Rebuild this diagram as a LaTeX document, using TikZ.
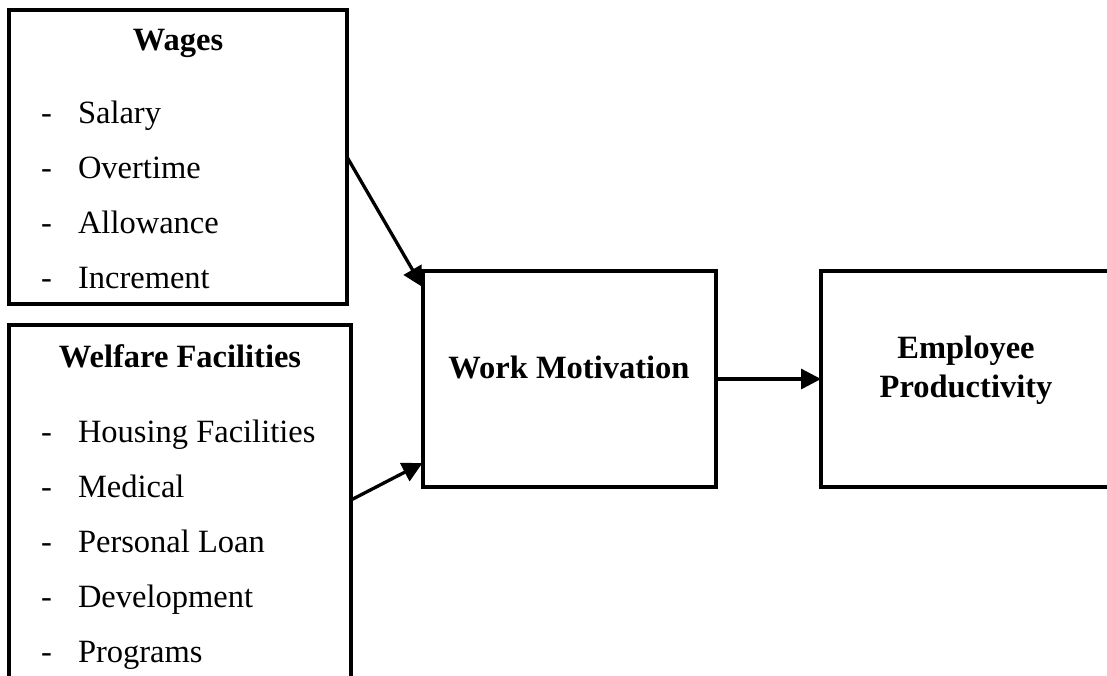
\documentclass[tikz,border=0pt]{standalone}
\usepackage{fontspec}
\setmainfont{Liberation Serif}
\usetikzlibrary{arrows.meta,calc}
\begin{document}
\begin{tikzpicture}[x=1pt,y=-1pt,
  box/.style={draw=black,line width=4pt,rectangle,inner sep=0pt,outer sep=0pt},
  txt/.style={inner sep=0pt,outer sep=0pt,font=\fontsize{32.5}{40}\selectfont},
  ttl/.style={txt,font=\fontsize{32.5}{40}\selectfont\bfseries,anchor=base},
  itm/.style={txt,anchor=base west},
  conn/.style={line width=3.3pt,-{Triangle[length=20pt,width=20pt]}}]
\useasboundingbox (0,0) rectangle (1107,675);
\clip (0,0) rectangle (1107,675);
\fill[white] (0,0) rectangle (1107,675);
% boxes
\node[box,minimum width=338pt,minimum height=294pt] (wages) at (178,157) {};
\node[box,minimum width=342pt,minimum height=400pt] (welfare) at (180,525) {};
\node[box,minimum width=293.5pt,minimum height=216pt] (wm) at (569.25,379) {};
\node[box,minimum width=290pt,minimum height=216pt] (emp) at (966,379) {};
% titles
\node[ttl] (tw) at (178,50) {Wages};
\node[ttl] (tf) at (180,367) {Welfare Facilities};
\node[ttl] (twm) at (569,378) {Work Motivation};
\node[ttl] (te1) at (966,358) {Employee};
\node[ttl] (te2) at (966,397) {Productivity};
% wages items
\foreach \n/\t/\y in {a/Salary/123,b/Overtime/178,c/Allowance/233,d/Increment/288}{
  \node[itm] (wd\n) at (41,\y) {-};
  \node[itm] (wi\n) at (78,\y) {\t};
}
% welfare items
\foreach \n/\t/\y in {a/Housing Facilities/442,b/Medical/497,c/Personal Loan/552,d/Development/607,e/Programs/662}{
  \node[itm] (fd\n) at (41,\y) {-};
  \node[itm] (fi\n) at (78,\y) {\t};
}
% connector end points
\coordinate (win) at ($(wm.north west)+(0,16)$);
\coordinate (fout) at ($(welfare.north east)+(0,175)$);
\coordinate (fin) at ($(wm.south west)+(0,-24)$);
\draw[conn] (wages.east) -- (win);
\draw[conn] (fout) -- (fin);
\draw[conn] (wm.east) -- (emp.west);
\end{tikzpicture}
\end{document}
